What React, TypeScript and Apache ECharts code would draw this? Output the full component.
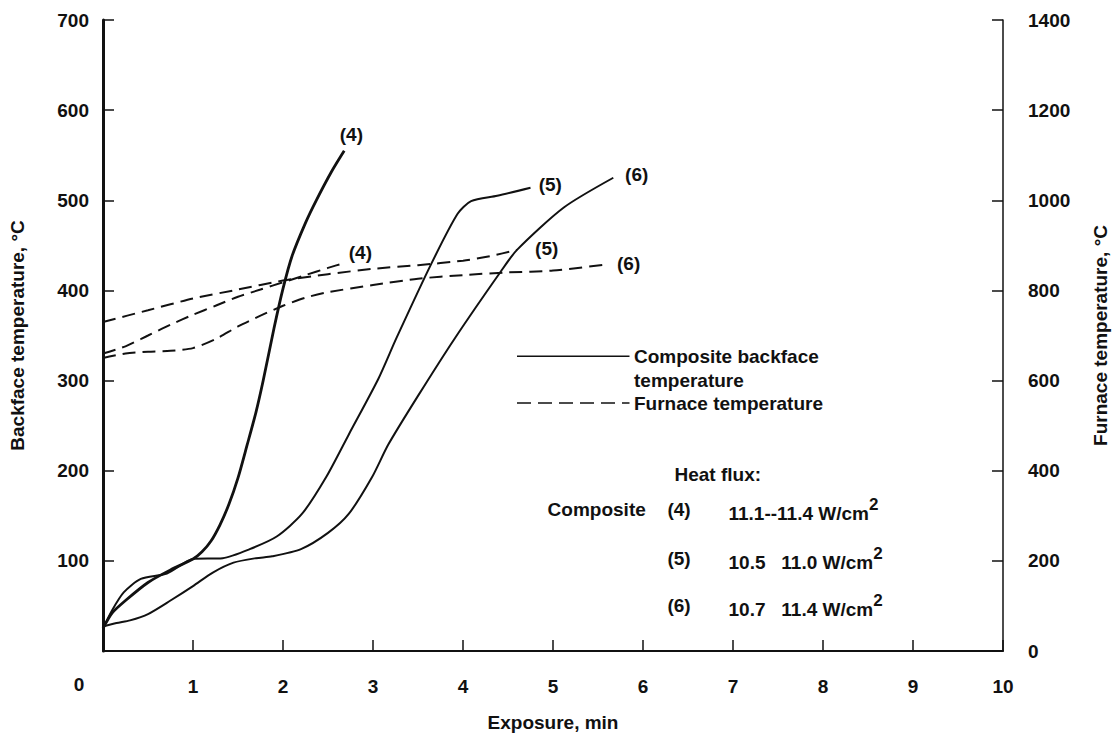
import React, { useEffect, useRef } from "react";
import * as echarts from "echarts";

// ---- data (exposure in min, temperatures in °C) ----
const xTickValues = [0, 1, 2, 3, 4, 5, 6, 7, 8, 9, 10];
const leftTicks = [0, 100, 200, 300, 400, 500, 600, 700];
const rightTicks = [0, 200, 400, 600, 800, 1000, 1200, 1400];

// composite backface temperature (left axis)
const back4Time = [0, 0.1, 0.25, 0.5, 0.75, 1.0, 1.1, 1.2, 1.3, 1.4, 1.5, 1.6, 1.7, 1.78, 1.9, 2.0, 2.1, 2.25, 2.37, 2.54, 2.68];
const back4Temp = [25, 42, 56, 76, 90, 102, 110, 122, 140, 163, 192, 228, 265, 300, 358, 402, 438, 475, 500, 532, 555];

const back5Time = [0, 0.1, 0.23, 0.42, 0.71, 1.0, 1.33, 1.63, 1.93, 2.21, 2.48, 2.73, 3.06, 3.26, 3.65, 3.94, 4.09, 4.38, 4.75];
const back5Temp = [25, 45, 65, 80, 86, 102, 103, 113, 127, 152, 193, 240, 302, 347, 430, 485, 499, 505, 514];

const back6Time = [0, 0.15, 0.3, 0.5, 0.75, 1.0, 1.22, 1.45, 1.7, 1.88, 2.2, 2.5, 2.73, 2.99, 3.17, 3.5, 3.91, 4.42, 4.6, 5.12, 5.67];
const back6Temp = [27, 31, 34, 41, 56, 72, 87, 98, 103, 105, 113, 131, 152, 193, 229, 283, 347, 421, 445, 492, 525];

// furnace temperature (right axis)
const furn4Time = [0, 0.25, 0.5, 0.75, 1.0, 1.25, 1.5, 1.75, 2.0, 2.25, 2.5, 2.7];
const furn4Temp = [660, 676, 700, 724, 746, 766, 786, 802, 818, 834, 850, 862];

const furn5Time = [0, 0.5, 1.0, 1.5, 2.0, 2.5, 3.0, 3.5, 4.0, 4.3, 4.6];
const furn5Temp = [730, 756, 782, 802, 822, 836, 848, 856, 866, 876, 890];

const furn6Time = [0, 0.25, 0.5, 0.75, 1.0, 1.25, 1.5, 1.75, 2.0, 2.25, 2.5, 3.0, 3.5, 4.0, 4.5, 5.0, 5.6];
const furn6Temp = [650, 660, 664, 666, 672, 692, 720, 744, 766, 784, 796, 812, 826, 834, 840, 844, 858];

const curveTags = ["(4)", "(5)", "(6)"];
const heatFluxRows = [
  { tag: "(4)", range: "11.1--11.4 W/cm" },
  { tag: "(5)", range: "10.5   11.0 W/cm" },
  { tag: "(6)", range: "10.7   11.4 W/cm" },
];

const pairs = (t: number[], v: number[]) => t.map((x, i) => [x, v[i]]);

const FONT = "'Liberation Sans', Arial, sans-serif";
const INK = "#111";

export default function App() {
  const ref = useRef<HTMLDivElement>(null);

  useEffect(() => {
    const chart = echarts.init(ref.current!, null, { renderer: "svg" });

    const solid = (name: string, data: number[][], width: number) => ({
      name,
      type: "line",
      xAxisIndex: 0,
      yAxisIndex: 0,
      data,
      smooth: 0.25,
      showSymbol: false,
      lineStyle: { color: INK, width, type: "solid" },
      z: 3,
    });
    const dashed = (name: string, data: number[][]) => ({
      name,
      type: "line",
      xAxisIndex: 0,
      yAxisIndex: 1,
      data,
      smooth: 0.25,
      showSymbol: false,
      lineStyle: { color: INK, width: 2, type: [13, 7] },
      z: 2,
    });

    const labelStyle = {
      color: INK,
      fontFamily: FONT,
      fontWeight: "bold",
      fontSize: 19,
    };

    chart.setOption({
      animation: false,
      backgroundColor: "#fff",
      grid: { left: 102, right: 108, top: 20, bottom: 81, containLabel: false },
      xAxis: {
        type: "value",
        min: 0,
        max: 10,
        interval: 1,
        name: "Exposure, min",
        nameLocation: "middle",
        nameGap: 62,
        nameTextStyle: { ...labelStyle, fontSize: 19 },
        axisLine: { show: true, lineStyle: { color: INK, width: 2 } },
        axisTick: { show: true, inside: true, length: 11, lineStyle: { color: INK, width: 1.5 } },
        axisLabel: {
          ...labelStyle,
          margin: 26,
          formatter: (v: number) => (v === 0 ? "" : String(v)),
        },
        splitLine: { show: false },
      },
      yAxis: [
        {
          type: "value",
          min: 0,
          max: 700,
          interval: 100,
          position: "left",
          name: "Backface temperature, °C",
          nameLocation: "middle",
          nameGap: 76,
          nameRotate: 90,
          nameTextStyle: { ...labelStyle, fontSize: 19 },
          axisLine: { show: true, lineStyle: { color: INK, width: 3 } },
          axisTick: { show: true, inside: true, length: 11, lineStyle: { color: INK, width: 1.5 } },
          axisLabel: {
            ...labelStyle,
            margin: 14,
            formatter: (v: number) => (v === 0 ? "" : String(v)),
          },
          splitLine: { show: false },
        },
        {
          type: "value",
          min: 0,
          max: 1400,
          interval: 200,
          position: "right",
          name: "Furnace temperature, °C",
          nameLocation: "middle",
          nameGap: 88,
          nameRotate: 90,
          nameTextStyle: { ...labelStyle, fontSize: 19 },
          axisLine: { show: true, lineStyle: { color: INK, width: 1.5 } },
          axisTick: { show: true, inside: true, length: 11, lineStyle: { color: INK, width: 1.5 } },
          axisLabel: { ...labelStyle, margin: 25, formatter: (v: number) => String(v) },
          splitLine: { show: false },
        },
      ],
      series: [
        solid("Composite (4)", pairs(back4Time, back4Temp), 2.8),
        solid("Composite (5)", pairs(back5Time, back5Temp), 2),
        solid("Composite (6)", pairs(back6Time, back6Temp), 2),
        dashed("Furnace (4)", pairs(furn4Time, furn4Temp)),
        dashed("Furnace (5)", pairs(furn5Time, furn5Temp)),
        dashed("Furnace (6)", pairs(furn6Time, furn6Temp)),
      ],
    });

    // positions of labels derived from axes
    const px = (t: number, v: number, yi: number) =>
      chart.convertToPixel({ xAxisIndex: 0, yAxisIndex: yi }, [t, v]) as number[];

    const tagText = (t: number, v: number, yi: number, text: string) => {
      const p = px(t, v, yi);
      return {
        type: "text",
        x: p[0],
        y: p[1],
        style: {
          text,
          fill: INK,
          font: `bold 19px ${FONT}`,
          align: "center",
          verticalAlign: "middle",
        },
      };
    };

    const o = px(0, 0, 0);
    const legendX0 = px(4.6, 0, 0)[0];
    const legendX1 = px(5.85, 0, 0)[0];
    const legendTextX = px(5.9, 0, 0)[0];
    const rowY = (v: number) => px(0, v, 0)[1];

    const textStyle = (text: string, x: number, y: number, align = "left") => ({
      type: "text",
      x,
      y,
      style: {
        text,
        fill: INK,
        font: `bold 19px ${FONT}`,
        align,
        verticalAlign: "middle",
      },
    });

    const fluxRowValues = [157, 103, 50];
    const fluxElems: any[] = [];
    heatFluxRows.forEach((r, i) => {
      const y = rowY(fluxRowValues[i]);
      fluxElems.push(textStyle(r.tag, px(6.4, 0, 0)[0], y, "center"));
      fluxElems.push({
        type: "text",
        x: px(6.95, 0, 0)[0],
        y,
        style: {
          text: `{a|${r.range}}{s|2}`,
          verticalAlign: "middle",
          rich: {
            a: { fill: INK, font: `bold 19px ${FONT}`, verticalAlign: "bottom" },
            s: { fill: INK, font: `bold 17px ${FONT}`, padding: [0, 0, 10, 0] },
          },
        },
      });
    });

    chart.setOption({
      graphic: [
        // shared origin label
        textStyle("0", o[0] - 24, o[1] + 33, "center"),
        // curve tags
        tagText(2.76, 573, 0, curveTags[0]),
        tagText(4.97, 518, 0, curveTags[1]),
        tagText(5.93, 529, 0, curveTags[2]),
        tagText(2.86, 884, 1, curveTags[0]),
        tagText(4.93, 894, 1, curveTags[1]),
        tagText(5.84, 860, 1, curveTags[2]),
        // legend
        {
          type: "line",
          shape: { x1: legendX0, y1: rowY(327), x2: legendX1, y2: rowY(327) },
          style: { stroke: INK, lineWidth: 1.5 },
        },
        textStyle("Composite backface", legendTextX, rowY(327)),
        textStyle("temperature", legendTextX, rowY(300)),
        {
          type: "line",
          shape: { x1: legendX0, y1: rowY(275), x2: legendX1, y2: rowY(275) },
          style: { stroke: INK, lineWidth: 1.5, lineDash: [14, 7] },
        },
        textStyle("Furnace temperature", legendTextX, rowY(275)),
        // heat flux block
        textStyle("Heat flux:", px(6.35, 0, 0)[0], rowY(196)),
        textStyle("Composite", px(4.94, 0, 0)[0], rowY(157)),
        ...fluxElems,
      ],
    });

    return () => chart.dispose();
  }, []);

  return (
    <div
      ref={ref}
      style={{ position: "fixed", left: 0, top: 0, width: 1118, height: 737, background: "#fff" }}
    />
  );
}
